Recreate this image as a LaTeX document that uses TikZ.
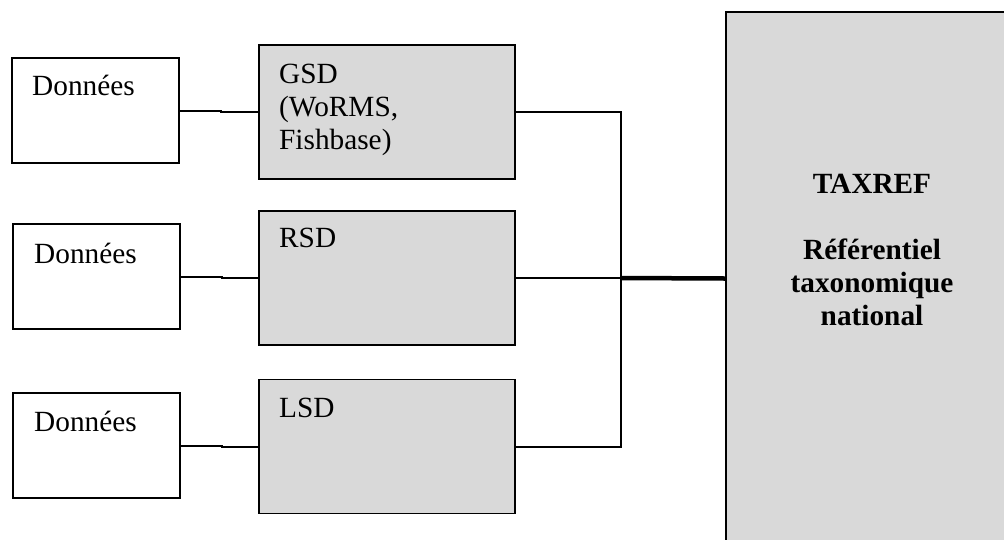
\documentclass[tikz,border=0pt]{standalone}
\usepackage{fontspec}
\setmainfont{Liberation Serif}
\definecolor{boxgray}{RGB}{217,217,217}
\begin{document}
\begin{tikzpicture}[x=1pt,y=-1pt,
  databox/.style={draw=black,line width=1.8pt,fill=white,inner sep=0pt,minimum width=167pt,minimum height=105pt},
  srcbox/.style={draw=black,line width=1.8pt,fill=boxgray,inner sep=0pt,minimum width=256pt,minimum height=134pt},
  refbox/.style={draw=black,line width=1.8pt,fill=boxgray,inner sep=0pt,minimum width=292pt,minimum height=533pt},
  txt/.style={anchor=base west,inner sep=0pt,font=\fontsize{29.3}{33}\selectfont},
  conn/.style={line width=2pt,black},
  thickconn/.style={line width=4.5pt,black}]
\useasboundingbox (0,0) rectangle (1004,539);
\clip (0,0) rectangle (1004,539);
% boxes
\node[databox] (d1) at (95.5,110.5) {};
\node[databox] (d2) at (96.5,276.5) {};
\node[databox] (d3) at (96.5,445.5) {};
\node[srcbox] (gsd) at (387,112) {};
\node[srcbox] (rsd) at (387,278) {};
\node[srcbox] (lsd) at (387,446.5) {};
\node[refbox] (tax) at (872,278.5) {};
% texts
\node[txt] (t1) at (32,95) {Données};
\node[txt] (t2) at (34,263) {Données};
\node[txt] (t3) at (34,431) {Données};
\node[txt,align=left,anchor=north west] (tg) at (279,64) {GSD\\(WoRMS,\\Fishbase)};
\node[txt] (tr) at (279,247) {RSD};
\node[txt] (tl) at (279,417) {LSD};
\node[txt,anchor=north,align=center,font=\fontsize{29.3}{33}\selectfont\bfseries] (tt) at (872,174) {TAXREF\\[33pt]Référentiel\\taxonomique\\national};
% connectors
\draw[conn] (d1.east) -- ++(41,0) |- (gsd.west);
\draw[conn] (d2.east) -- ++(41,0) |- (rsd.west);
\draw[conn] (d3.east) -- ++(41,0) |- (lsd.west);
\coordinate (j) at (621,278);
\draw[conn] (gsd.east) -| (j);
\draw[conn] (lsd.east) -| (j);
\draw[conn] (rsd.east) -- (j);
\draw[thickconn] (j) -- (tax.west);
\end{tikzpicture}
\end{document}
